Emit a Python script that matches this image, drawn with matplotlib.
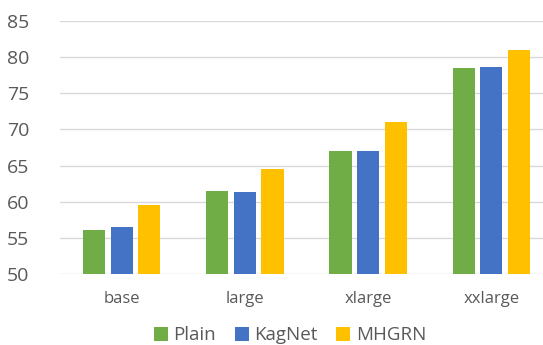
import numpy as np
import matplotlib.pyplot as plt

sizes = ["base", "large", "xlarge", "xxlarge"]
plain = [56.1, 61.5, 67.0, 78.5]
kagnet = [56.5, 61.4, 67.0, 78.7]
mhgrn = [59.5, 64.5, 71.0, 81.0]

plt.rcParams['font.family'] = ['Open Sans', 'DejaVu Sans']

fig = plt.figure(figsize=(5.43, 3.45), dpi=100)
ax = fig.add_axes([60/543, (345-274)/345, 483/543, 253/345])

x = np.arange(len(sizes))
w = 0.18
off = 0.224
ax.bar(x - off, plain, w, color="#70AD47", label="Plain", zorder=3)
ax.bar(x, kagnet, w, color="#4472C4", label="KagNet", zorder=3)
ax.bar(x + off, mhgrn, w, color="#FFC000", label="MHGRN", zorder=3)

ax.set_ylim(50, 85)
ax.set_xlim(-0.5, 3.42)
ax.set_yticks(range(50, 86, 5))
ax.set_xticks(x)
ax.set_xticklabels(sizes)
ax.yaxis.grid(True, color="#D9D9D9", linewidth=1.0, zorder=0)
ax.set_axisbelow(True)
for s in ax.spines.values():
    s.set_visible(False)
ax.tick_params(axis="y", length=0, labelsize=14, labelcolor="#595959", pad=22)
ax.tick_params(axis="x", length=0, labelsize=12, labelcolor="#595959", pad=12)

# legend sits under the category labels
ax.legend(loc="center", bbox_to_anchor=(290/543, 9.5/345), bbox_transform=fig.transFigure,
          ncol=3, frameon=False, fontsize=13.5, labelcolor="#595959",
          handlelength=0.75, handleheight=0.75, handletextpad=0.3, columnspacing=1.0)

fig.savefig("out.png", dpi=100)
